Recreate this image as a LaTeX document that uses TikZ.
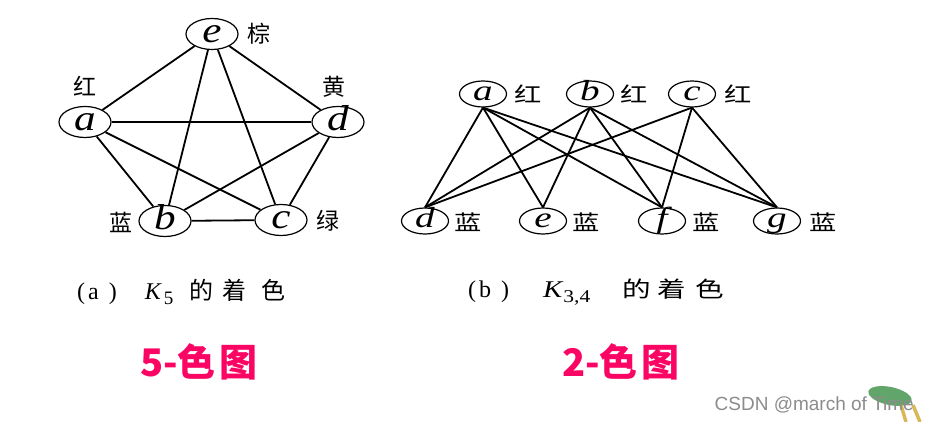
\RequirePackage{fix-cm}
\documentclass[tikz,border=0pt]{standalone}
\usepackage{fontspec}
\newfontfamily\cjk{Noto Sans CJK SC}
\newfontfamily\cjkw{Noto Sans CJK SC}[FakeStretch=1.3]
\newfontfamily\ser{Liberation Serif}
\newfontfamily\serw{Liberation Serif}[FakeStretch=1.2]
\newfontfamily\serww{Liberation Serif}[FakeStretch=1.35]
\newfontfamily\wm{Liberation Sans}
\usetikzlibrary{shapes.geometric}
\definecolor{pinkred}{RGB}{250,5,100}
\definecolor{logogreen}{RGB}{70,150,80}
\definecolor{logoyellow}{RGB}{215,185,90}
\begin{document}
\begin{tikzpicture}[x=1pt,y=-1pt,
  vtx/.style={draw,ellipse,line width=1.2pt,minimum width=52pt,minimum height=31pt,inner sep=0pt,
    text height=16.5pt,text depth=0pt,font=\serw\itshape\fontsize{36}{36}\selectfont},
  vsm/.style={vtx,minimum width=47pt,minimum height=26pt,text height=13pt,font=\serww\itshape\fontsize{29}{29}\selectfont},
  lbl/.style={font=\cjk\fontsize{23}{23}\selectfont,inner sep=0pt},
  lblw/.style={font=\cjkw\fontsize{21}{21}\selectfont,inner sep=0pt},
  edge/.style={line width=1.8pt},
  captext/.style={font=\fontsize{24}{24}\selectfont,inner sep=0pt,anchor=base west},
  bigtext/.style={font=\cjk\bfseries\fontsize{38}{38}\selectfont,text=pinkred,inner sep=0pt},
  wmark/.style={font=\wm\fontsize{19}{19}\selectfont,text=black!45,inner sep=0pt,anchor=east}]
\useasboundingbox (0,0) rectangle (930,422);
\fill[white] (0,0) rectangle (930,422);

% ---- K5 ----
\node[vtx] (e) at (212,34) {e};
\node[vtx] (a) at (85,122) {a};
\node[vtx] (d) at (338,122) {d};
\node[vtx] (b) at (165,221) {b};
\node[vtx] (c) at (281,220) {c};
\node[lbl] (le) at (259,34) {棕};
\node[lbl] (la) at (85,86) {红};
\node[lbl] (ld) at (334,87) {黄};
\node[lbl] (lb) at (121,222) {蓝};
\node[lbl] (lc) at (328,221) {绿};
\foreach \u/\v in {e/a,e/d,e/b,e/c,a/d,a/b,a/c,d/b,d/c,b/c}
  \draw[edge] (\u) -- (\v);

% ---- K3,4 ----
\node[vsm] (ta) at (483,94) {a};
\node[vsm] (tb) at (590,94) {b};
\node[vsm] (tc) at (692,94) {c};
\node[vsm] (bd) at (425,221) {d};
\node[vsm] (be) at (543,221) {e};
\node[vsm] (bf) at (662,221) {f};
\node[vsm] (bg) at (777,221) {g};
\node[lblw] (lta) at (528,94) {红};
\node[lblw] (ltb) at (634,94) {红};
\node[lblw] (ltc) at (738,94) {红};
\node[lblw] (lbd) at (468,222) {蓝};
\node[lblw] (lbe) at (586,222) {蓝};
\node[lblw] (lbf) at (706,222) {蓝};
\node[lblw] (lbg) at (823,222) {蓝};
\foreach \u/\v in {ta/bd,ta/be,ta/bf,ta/bg,tb/bd,tb/be,tb/bf,tb/bg,tc/bd,tc/bf,tc/bg}
  \draw[edge] (\u.south) -- (\v.north);

% ---- captions ----
\node[captext] (capa) at (77,300) {\ser(\hspace{3pt}a\hspace{10pt})\hspace{28pt}{\itshape K}\hspace{3pt}\raisebox{-5pt}{\fontsize{19}{19}\selectfont 5}\hspace{16pt}\cjk 的\hspace{9pt}着\hspace{15pt}色};
\node[captext] (capb) at (468,298) {\ser(\hspace{3pt}b\hspace{10pt})\hspace{34pt}{\serw\itshape K}\hspace{1pt}\raisebox{-5pt}{\serw\fontsize{18}{18}\selectfont 3,4}\hspace{32pt}\cjkw\fontsize{22}{22}\selectfont 的\hspace{7pt}着\hspace{9pt}色};

\node[bigtext] (fivec) at (199,362) {5-色\hspace{4pt}图};
\node[bigtext] (twoc) at (621,362) {2-色\hspace{4pt}图};

% ---- watermark ----
\fill[logogreen,opacity=0.85,rotate around={-12:(890,396)}] (890,396) ellipse (22pt and 9pt);
\draw[logoyellow,line width=3.5pt] (901,405) -- (906,422);
\draw[logoyellow,line width=3.5pt] (913,405) -- (920,422);
\node[wmark] (wm) at (914,405) {CSDN @march of Time};
\end{tikzpicture}
\end{document}
